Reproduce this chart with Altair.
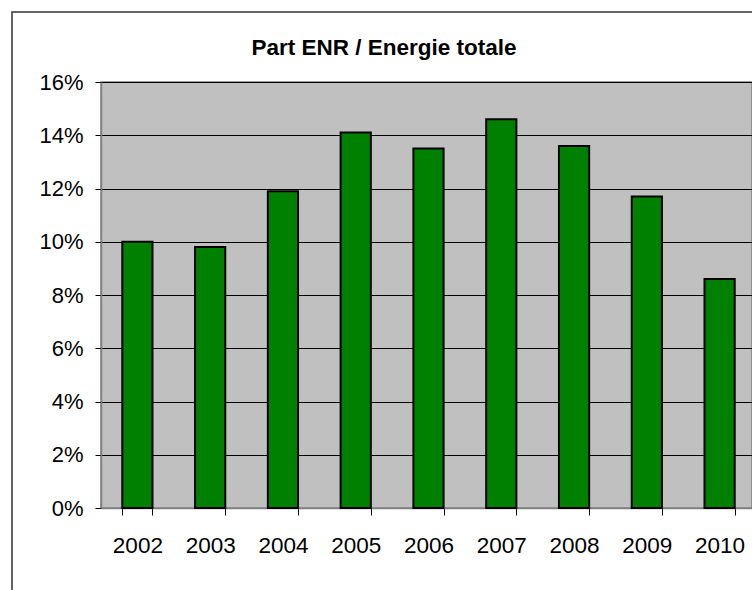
import altair as alt
import pandas as pd

years = ["2002", "2003", "2004", "2005", "2006", "2007", "2008", "2009", "2010"]
shares = [0.100, 0.098, 0.119, 0.141, 0.135, 0.146, 0.136, 0.117, 0.086]
y_ticks = [0, 0.02, 0.04, 0.06, 0.08, 0.10, 0.12, 0.14, 0.16]
title_text = "Part ENR / Energie totale"

df = pd.DataFrame({"year": years, "share": shares})
frame_df = pd.DataFrame({"k": [0]})
title_df = pd.DataFrame({"t": [title_text]})

FONT = "Liberation Sans"

bars = alt.Chart(df).mark_bar(
    color="#008000", stroke="#000000", strokeWidth=2
).encode(
    x=alt.X(
        "year:N",
        sort=years,
        scale=alt.Scale(range=[0, 655], paddingInner=0.585, paddingOuter=0.2925),
        axis=alt.Axis(
            title=None, labelAngle=0, labelFont=FONT, labelFontSize=22.5,
            labelColor="#000000", labelPadding=19, tickBand="extent",
            tickSize=7, tickColor="#000000", domainColor="#808080",
            domainWidth=1.5, grid=False,
        ),
    ),
    y=alt.Y(
        "share:Q",
        scale=alt.Scale(domain=[0, 0.16], nice=False),
        axis=alt.Axis(
            title=None, values=y_ticks, format=".0%", labelFont=FONT,
            labelFontSize=22, labelColor="#000000", labelPadding=12,
            tickSize=6, tickColor="#000000", domainColor="#808080",
            domainWidth=1.5, grid=True, gridColor="#000000", gridWidth=1,
        ),
    ),
)

frame = alt.Chart(frame_df).mark_rect(
    fill="#ffffff", fillOpacity=0, stroke="#333333", strokeWidth=1.5, clip=False
).encode(
    x=alt.value(-89), x2=alt.value(900), y=alt.value(-70), y2=alt.value(800)
)

title = alt.Chart(title_df).mark_text(
    font=FONT, fontSize=22.5, fontWeight="bold", color="#000000",
    align="center", baseline="alphabetic", clip=False
).encode(
    text="t:N", x=alt.value(283), y=alt.value(-27)
)

chart = alt.layer(frame, bars, title).properties(
    width=651,
    height=426,
    padding={"left": 101, "top": 82, "right": 0, "bottom": 82},
    autosize=alt.AutoSizeParams(type="none"),
    background="#ffffff",
).configure_view(
    fill="#c0c0c0", stroke="#808080", strokeWidth=1.5
)

chart.save("out.html", embed_options={"renderer": "svg", "actions": False})
